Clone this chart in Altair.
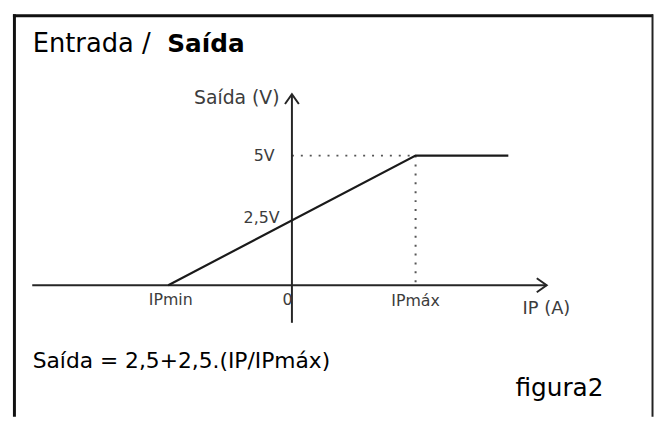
import altair as alt
import pandas as pd

# ---- data (IP expressed in units of IPmax, output in volts) ----
ip_points = [-1.0, 1.0, 1.75]
out_points = [0.0, 5.0, 5.0]

# dotted guide segments: (x, y) -> (x2, y2)
guide_x = [0.0, 1.0]
guide_y = [5.0, 5.0]
guide_x2 = [1.0, 1.0]
guide_y2 = [5.0, 0.0]

# axis extents
x_axis_from, x_axis_to = -2.1, 2.06
y_axis_from, y_axis_to = -1.45, 7.37

# tick labels
xlab_text = ["IPmin", "0", "IPmáx"]
xlab_pos = [-0.98, -0.035, 1.0]
xlab_v = [-0.57, -0.57, -0.6]

ylab_text = ["5V", "2,5V"]
ylab_pos = [-0.14, -0.1]
ylab_v = [5.0, 2.6]

axis_title_text = ["Saída (V)", "IP (A)"]
axis_title_pos = [-0.1, 1.865]
axis_title_v = [7.21, -0.92]

title_regular = "Entrada /"
title_bold = "Saída"
formula = "Saída = 2,5+2,5.(IP/IPmáx)"
caption = "figura2"

# ---- scales ----
xs = alt.Scale(domain=[-2, 2], range=[37, 537], nice=False, zero=False)
ys = alt.Scale(domain=[0, 5], range=[278, 147], nice=False, zero=False)

def X(f):
    return alt.X(f, type="quantitative", scale=xs, axis=None)

def Y(f):
    return alt.Y(f, type="quantitative", scale=ys, axis=None)

INK = "#262626"
LABEL = "#3c3c3c"
H = 411

# frame
frame_df = pd.DataFrame({"k": [0]})
frame_top = alt.Chart(frame_df).mark_rule(color="#111", strokeWidth=3).encode(
    x=alt.value(5), x2=alt.value(652), y=alt.value(5.5))
frame_left = alt.Chart(frame_df).mark_rule(color="#111", strokeWidth=3).encode(
    x=alt.value(6.5), y=alt.value(4), y2=alt.value(H))
frame_right = alt.Chart(frame_df).mark_rule(color="#222", strokeWidth=2).encode(
    x=alt.value(651.5), y=alt.value(4), y2=alt.value(H))

# axes
axes_df = pd.DataFrame({
    "x": [x_axis_from, 0.0],
    "x2": [x_axis_to, 0.0],
    "y": [0.0, y_axis_from],
    "y2": [0.0, y_axis_to],
})
axes = alt.Chart(axes_df).mark_rule(color=INK, strokeWidth=2).encode(
    x=X("x"), x2="x2", y=Y("y"), y2="y2")

# arrow heads
ax_dx, ax_dy = 0.08, 0.27
ay_dx, ay_dy = 0.056, 0.38
heads_df = pd.DataFrame({
    "x": [x_axis_to - ax_dx, x_axis_to, x_axis_to - ax_dx,
          -ay_dx, 0.0, ay_dx],
    "y": [ax_dy, 0.0, -ax_dy,
          y_axis_to - ay_dy, y_axis_to, y_axis_to - ay_dy],
    "head": ["x", "x", "x", "y", "y", "y"],
    "o": [0, 1, 2, 0, 1, 2],
})
heads = alt.Chart(heads_df).mark_line(color=INK, strokeWidth=2).encode(
    x=X("x"), y=Y("y"), detail="head:N", order="o:Q")

# dotted guides
guides_df = pd.DataFrame({"x": guide_x, "y": guide_y, "x2": guide_x2, "y2": guide_y2})
guides = alt.Chart(guides_df).mark_rule(
    color="#555", strokeWidth=2, strokeDash=[2, 7]).encode(
    x=X("x"), x2="x2", y=Y("y"), y2="y2")

# transfer line
line_df = pd.DataFrame({"ip": ip_points, "out": out_points, "o": list(range(len(ip_points)))})
transfer = alt.Chart(line_df).mark_line(color="#1a1a1a", strokeWidth=2.2).encode(
    x=X("ip"), y=Y("out"), order="o:Q")

# labels
xl_df = pd.DataFrame({"t": xlab_text, "x": xlab_pos, "y": xlab_v})
xlabels = alt.Chart(xl_df).mark_text(
    font="DejaVu Sans", fontSize=16, color=LABEL, align="center", baseline="middle").encode(
    x=X("x"), y=Y("y"), text="t:N")

yl_df = pd.DataFrame({"t": ylab_text, "x": ylab_pos, "y": ylab_v})
ylabels = alt.Chart(yl_df).mark_text(
    font="DejaVu Sans", fontSize=16, color=LABEL, align="right", baseline="middle").encode(
    x=X("x"), y=Y("y"), text="t:N")

at_df = pd.DataFrame({"t": axis_title_text, "x": axis_title_pos, "y": axis_title_v})
at_left = alt.Chart(at_df.iloc[[0]]).mark_text(
    font="DejaVu Sans", fontSize=19, color=LABEL, align="right", baseline="middle").encode(
    x=X("x"), y=Y("y"), text="t:N")
at_right = alt.Chart(at_df.iloc[[1]]).mark_text(
    font="DejaVu Sans", fontSize=18, color=LABEL, align="left", baseline="middle").encode(
    x=X("x"), y=Y("y"), text="t:N")

# title and notes
t1 = alt.Chart(frame_df).mark_text(
    font="DejaVu Sans", fontSize=26, color="#000", align="left", baseline="alphabetic",
    text=title_regular).encode(x=alt.value(25), y=alt.value(42))
t2 = alt.Chart(frame_df).mark_text(
    font="DejaVu Sans", fontSize=25, fontWeight="bold", color="#000", align="left",
    baseline="alphabetic", text=title_bold).encode(x=alt.value(161), y=alt.value(42))
f1 = alt.Chart(frame_df).mark_text(
    font="DejaVu Sans", fontSize=22, color="#000", align="left", baseline="alphabetic",
    text=formula).encode(x=alt.value(25), y=alt.value(362))
c1 = alt.Chart(frame_df).mark_text(
    font="DejaVu Sans", fontSize=25, color="#000", align="left", baseline="alphabetic",
    text=caption).encode(x=alt.value(513), y=alt.value(390))

chart = alt.layer(
    frame_top, frame_left, frame_right, guides, axes, heads, transfer,
    xlabels, ylabels, at_left, at_right, t1, t2, f1, c1
).properties(
    width=653, height=H, padding=0,
    autosize=alt.AutoSizeParams(type="none"),
    background="white",
).configure_view(stroke=None)

chart.save("out.html", embed_options={"renderer": "svg", "actions": False})
